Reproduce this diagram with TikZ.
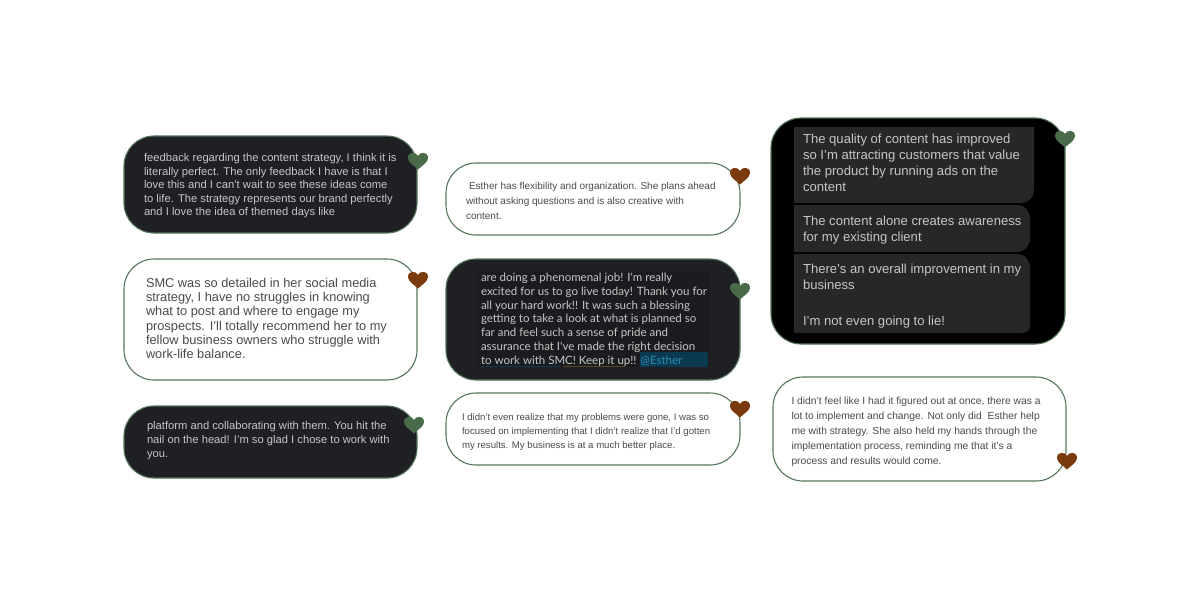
\documentclass[tikz,border=0pt]{standalone}
\usepackage{fontspec}
\setmainfont{Liberation Sans}
\newfontfamily\latofont{Lato}
\definecolor{edgegreen}{HTML}{55755A}
\definecolor{heartgreen}{HTML}{4A6B4A}
\definecolor{heartbrown}{HTML}{7A3A0C}
\definecolor{darkfill}{HTML}{1E2024}
\definecolor{darkinner}{HTML}{1A1C1F}
\definecolor{blockfill}{HTML}{272727}
\definecolor{softlight}{HTML}{C6C6C6}
\definecolor{softdark}{HTML}{4A4A4A}
\definecolor{tagfill}{HTML}{0B3A50}
\definecolor{tagtext}{HTML}{2A8FB8}
\definecolor{lineblue}{HTML}{0F3A52}
\definecolor{lineochre}{HTML}{5A4520}
\newcommand{\lovemark}[3]{%
  \fill[#3,shift={(#1,#2)}] (0,8.5) .. controls (-4,4.5) and (-10,1.5) .. (-10,-3)
    .. controls (-10,-9.5) and (-2,-9.5) .. (0,-5)
    .. controls (2,-9.5) and (10,-9.5) .. (10,-3)
    .. controls (10,1.5) and (4,4.5) .. (0,8.5) -- cycle;}
\tikzset{
  x=1pt,y=-1pt,
  bubble/.style={draw=edgegreen,line width=1.1pt,fill=#1,rounded corners=30pt},
  says/.style={anchor=north west,inner sep=0pt,outer sep=0pt,align=left},
}
\begin{document}
\begin{tikzpicture}
\useasboundingbox (0,0) rectangle (1200,600);
\fill[white] (0,0) rectangle (1200,600);
% bubbles
\draw[bubble=darkfill] (124,136) rectangle (417,233);
\draw[bubble=white] (124,259) rectangle (417,380);
\draw[bubble=darkfill] (124,406) rectangle (417,478);
\draw[bubble=white] (446,163) rectangle (740,235);
\draw[bubble=darkfill] (446,259) rectangle (740,380);
\draw[bubble=white] (446,393) rectangle (740,465);
\draw[bubble=black] (771,118) rectangle (1065,344);
\draw[bubble=white] (773,377) rectangle (1066,481);
% B5 inner panel
\fill[darkinner] (477,272) rectangle (710,367);
\fill[tagfill] (640,352) rectangle (708,367);
\draw[lineblue,line width=0.8pt] (481,366.5) -- (560,366.5);
\draw[lineochre,line width=0.8pt] (563,366.5) -- (625,366.5);
% B7 inner blocks
\fill[blockfill] (794,127) -- (1034,127) -- (1034,189) .. controls (1034,198) and (1028,203) .. (1020,203) -- (794,203) -- cycle;
\fill[blockfill] (794,205) -- (1016,205) .. controls (1025,205) and (1030,211) .. (1030,219) -- (1030,238) .. controls (1030,246) and (1025,252) .. (1016,252) -- (794,252) -- cycle;
\fill[blockfill] (794,254) -- (1016,254) .. controls (1025,254) and (1030,260) .. (1030,268) -- (1030,326) .. controls (1030,330) and (1027,333) .. (1022,333) -- (794,333) -- cycle;
% texts
\node[says,text=softlight,font=\fontsize{11.2}{13.5}\selectfont] (t1) at (144,153.5) {feedback regarding the content strategy, I think it is\\literally perfect. The only feedback I have is that I\\love this and I can't wait to see these ideas come\\to life. The strategy represents our brand perfectly\\and I love the idea of themed days like};
\node[says,text=softdark,font=\fontsize{12.8}{14.3}\selectfont] (t2) at (146,278) {SMC was so detailed in her social media\\strategy, I have no struggles in knowing\\what to post and where to engage my\\prospects. I'll totally recommend her to my\\fellow business owners who struggle with\\work-life balance.};
\node[says,text=softlight,font=\fontsize{11.2}{13.7}\selectfont] (t3) at (147,421.5) {platform and collaborating with them. You hit the\\nail on the head! I'm so glad I chose to work with\\you.};
\node[says,text=softdark,font=\fontsize{10}{15}\selectfont] (t4) at (466,182.5) {\hspace{3pt}Esther has flexibility and organization. She plans ahead\\without asking questions and is also creative with\\content.};
\node[says,text=softlight,font=\latofont\fontsize{11.5}{13.8}\selectfont] (t5) at (481,273) {are doing a phenomenal job! I'm really\\excited for us to go live today! Thank you for\\all your hard work!! It was such a blessing\\getting to take a look at what is planned so\\far and feel such a sense of pride and\\assurance that I've made the right decision\\to work with SMC! Keep it up!! \textcolor{tagtext}{@Esther}};
\node[says,text=softdark,font=\fontsize{9.6}{14}\selectfont] (t6) at (462,414) {I didn't even realize that my problems were gone, I was so\\focused on implementing that I didn't realize that I'd gotten\\my results. My business is at a much better place.};
\node[says,text=softlight,font=\fontsize{13.1}{15.9}\selectfont] (t7a) at (803,134.5) {The quality of content has improved\\so I'm attracting customers that value\\the product by running ads on the\\content};
\node[says,text=softlight,font=\fontsize{13.1}{15.9}\selectfont] (t7b) at (803,216.5) {The content alone creates awareness\\for my existing client};
\node[says,text=softlight,font=\fontsize{13.1}{15.9}\selectfont] (t7c) at (803,264.5) {There's an overall improvement in my\\business};
\node[says,text=softlight,font=\fontsize{13.1}{15.9}\selectfont] (t7d) at (803,316) {I'm not even going to lie!};
\node[says,text=softdark,font=\fontsize{10.3}{15}\selectfont] (t8) at (791.5,397) {I didn't feel like I had it figured out at once, there was a\\lot to implement and change. Not only did\ \ Esther help\\me with strategy. She also held my hands through the\\implementation process, reminding me that it's a\\process and results would come.};
% hearts
\lovemark{418}{161}{heartgreen}
\lovemark{418}{280}{heartbrown}
\lovemark{414}{425}{heartgreen}
\lovemark{740}{176}{heartbrown}
\lovemark{740}{291}{heartgreen}
\lovemark{740}{409}{heartbrown}
\lovemark{1065}{139}{heartgreen}
\lovemark{1067}{461}{heartbrown}
\end{tikzpicture}
\end{document}
